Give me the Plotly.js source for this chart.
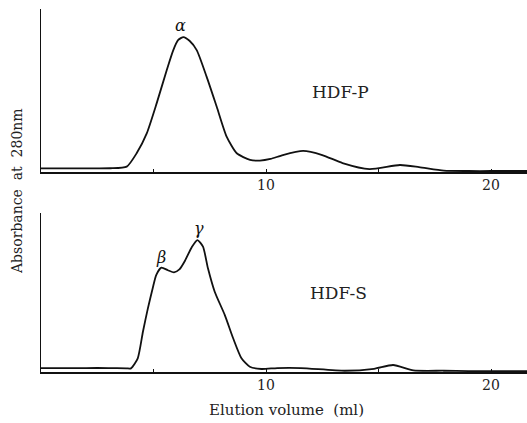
<!DOCTYPE html>
<html><head><meta charset="utf-8">
<script src="https://cdn.plot.ly/plotly-3.0.1.min.js"></script>
<style>body{margin:0;background:#fff}#g{width:527px;height:423px}</style>
</head><body><div id="g"></div>
<script>
// Elution volume (ml) and relative absorbance at 280 nm
const volP = [0, 1, 2, 3.07, 3.81, 4.25, 4.7, 5.14, 5.59, 5.88, 6.1, 6.33, 6.6, 6.92, 7.36, 7.81, 8.25, 8.7, 9.29, 9.73, 10.2, 10.75, 11.65, 12.5, 13.4, 14.6, 15.95, 16.8, 17.9, 19, 20, 21.6];
const absP = [0.022, 0.022, 0.022, 0.023, 0.033, 0.115, 0.237, 0.421, 0.626, 0.748, 0.81, 0.828, 0.805, 0.748, 0.585, 0.40, 0.217, 0.115, 0.074, 0.07, 0.08, 0.104, 0.129, 0.104, 0.055, 0.018, 0.043, 0.03, 0.008, 0.006, 0.006, 0.006];
const volS = [0, 1, 2, 3, 3.8, 4.0, 4.3, 4.53, 4.75, 4.97, 5.12, 5.35, 5.64, 5.91, 6.15, 6.4, 6.7, 6.95, 7.2, 7.42, 7.72, 8.17, 8.54, 8.91, 9.28, 9.8, 10.5, 11.55, 13.5, 14.8, 15.65, 16.55, 17.9, 19, 20, 21.6];
const absS = [0.025, 0.025, 0.025, 0.025, 0.023, 0.023, 0.086, 0.253, 0.40, 0.53, 0.61, 0.656, 0.64, 0.627, 0.645, 0.7, 0.785, 0.83, 0.788, 0.652, 0.505, 0.358, 0.212, 0.086, 0.033, 0.019, 0.025, 0.025, 0.008, 0.02, 0.044, 0.01, 0.008, 0.006, 0.006, 0.006];
const tickVals = [5, 10, 15, 20];
const tickText = ["", "10", "", "20"];
const peakLabels = [
  {text: "α", x: 6.22, y: 0.90, ax: "x", ay: "y"},
  {text: "β", x: 5.35, y: 0.72, ax: "x2", ay: "y2"},
  {text: "γ", x: 7.0, y: 0.905, ax: "x2", ay: "y2"}
];
const panelLabels = [
  {text: "HDF-P", x: 13.33, y: 0.49, ax: "x", ay: "y"},
  {text: "HDF-S", x: 13.2, y: 0.50, ax: "x2", ay: "y2"}
];

const serif = "DejaVu Serif";
const lineStyle = {color: "#111", width: 1.8, shape: "spline", smoothing: 0.6};
const traces = [
  {x: volP, y: absP, mode: "lines", line: lineStyle, xaxis: "x", yaxis: "y", hoverinfo: "none"},
  {x: volS, y: absS, mode: "lines", line: lineStyle, xaxis: "x2", yaxis: "y2", hoverinfo: "none"}
];
const xax = () => ({
  domain: [41/527, 1], range: [0, 21.6], showline: true, linecolor: "#111", linewidth: 1.5,
  showgrid: false, zeroline: false, ticks: "inside", ticklen: 3, tickcolor: "#111",
  tickvals: tickVals, ticktext: tickText, tickfont: {family: serif, size: 14, color: "#222"}
});
const yax = (dom) => ({
  domain: dom, range: [0, 1], showline: true, linecolor: "#111", linewidth: 1.5,
  showgrid: false, zeroline: false, showticklabels: false, ticks: ""
});
const annotations = [];
peakLabels.forEach(p => annotations.push({text: "<i>" + p.text + "</i>", x: p.x, y: p.y, xref: p.ax, yref: p.ay,
  showarrow: false, font: {family: serif, size: 16, color: "#111"}}));
panelLabels.forEach(p => annotations.push({text: p.text, x: p.x, y: p.y, xref: p.ax, yref: p.ay,
  showarrow: false, font: {family: serif, size: 17, color: "#222"}}));
annotations.push({text: "Absorbance  at  280nm", x: 17/527, y: 1 - 191/423, xref: "paper", yref: "paper",
  xanchor: "center", yanchor: "middle",
  textangle: -90, showarrow: false, font: {family: serif, size: 14, color: "#222"}});
annotations.push({text: "Elution volume  (ml)", x: 286/527, y: 1 - 410/423, xref: "paper", yref: "paper",
  xanchor: "center", yanchor: "middle",
  showarrow: false, font: {family: serif, size: 15, color: "#222"}});

const layout = {
  width: 527, height: 423, margin: {l: 0, r: 0, t: 0, b: 0},
  paper_bgcolor: "#fff", plot_bgcolor: "#fff", showlegend: false,
  xaxis: Object.assign(xax(), {anchor: "y"}),
  yaxis: Object.assign(yax([1 - 172/423, 1 - 9/423]), {anchor: "x"}),
  xaxis2: Object.assign(xax(), {anchor: "y2"}),
  yaxis2: Object.assign(yax([1 - 372/423, 1 - 213/423]), {anchor: "x2"}),
  annotations: annotations
};
Plotly.newPlot("g", traces, layout, {staticPlot: true});
</script></body></html>
